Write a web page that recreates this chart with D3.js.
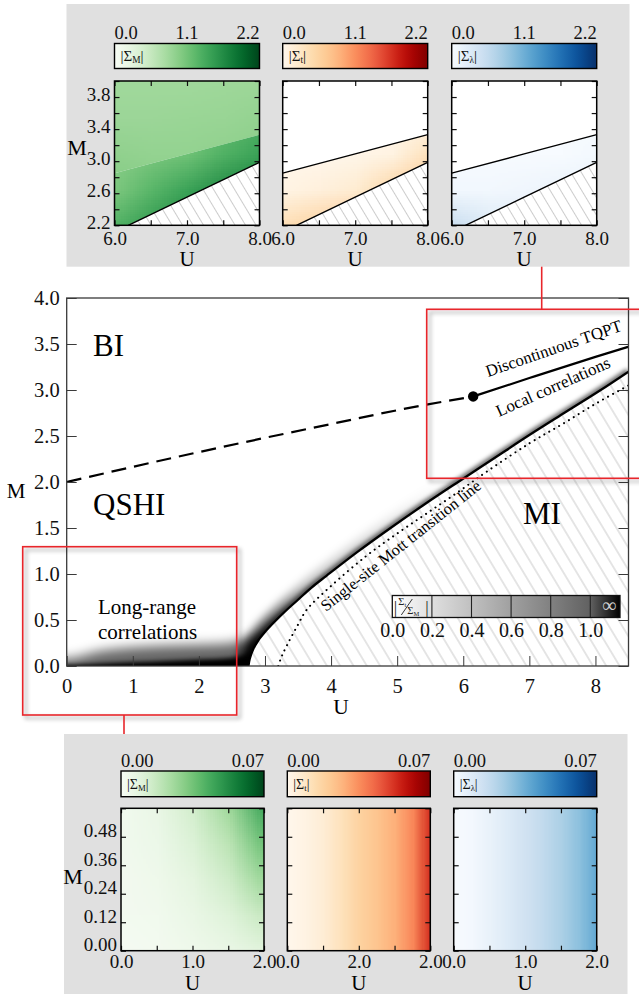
<!DOCTYPE html>
<html>
<head>
<meta charset="utf-8">
<script src="https://cdn.jsdelivr.net/npm/d3@7"></script>
<style>
  body { margin: 0; background: #fff; }
  svg { display: block; }
  text { font-family: "Liberation Serif", "Times New Roman", serif; }
</style>
</head>
<body>
<svg id="canvas"></svg>
<script>
const width = 639;
const height = 994;

// ---- main phase diagram ----
const uTicks = [0, 1, 2, 3, 4, 5, 6, 7, 8];
const mTicks = [0.0, 0.5, 1.0, 1.5, 2.0, 2.5, 3.0, 3.5, 4.0];
const tqptDashU = [0, 1, 2, 3, 4, 5, 6.15];
const tqptDashM = [2.0, 2.165, 2.325, 2.48, 2.63, 2.78, 2.93];
const tqptSolidU = [6.15, 7.0, 8.0, 8.5];
const tqptSolidM = [2.93, 3.13, 3.36, 3.47];
const mottU = [2.75, 2.77, 2.82, 2.9, 3.0, 3.13, 3.3, 3.5, 3.7, 3.93, 4.4, 4.9, 5.4, 5.9, 6.45, 7.0, 7.55, 8.08, 8.5];
const mottM = [0.0, 0.08, 0.18, 0.28, 0.37, 0.47, 0.59, 0.72, 0.85, 0.98, 1.24, 1.5, 1.75, 1.99, 2.25, 2.51, 2.76, 3.0, 3.2];
const singleU = [3.2, 3.25, 3.35, 3.5, 3.63, 4.0, 4.54, 5.0, 5.45, 5.9, 6.35, 7.0, 7.5, 8.0, 8.5];
const singleM = [0.0, 0.1, 0.25, 0.45, 0.61, 0.87, 1.2, 1.44, 1.66, 1.88, 2.11, 2.42, 2.63, 2.85, 3.05];
const critical = [6.15, 2.93];
const bandU = [0, 0.5, 1.0, 1.5, 2.0, 2.5, 2.76];
const bandCore = [0.01, 0.025, 0.04, 0.055, 0.07, 0.09, 0.12];
const bandHalo = [0.08, 0.16, 0.2, 0.22, 0.23, 0.25, 0.3];
const ratioTicks = [0.0, 0.2, 0.4, 0.6, 0.8, 1.0];
const ratioMax = 1.15;

// ---- upper inset: U 6-8, M 2.2-4.0 ----
const topUTicks = [6.0, 6.5, 7.0, 7.5, 8.0];
const topULabels = ["6.0", "", "7.0", "", "8.0"];
const topMTicks = [2.2, 2.4, 2.6, 2.8, 3.0, 3.2, 3.4, 3.6, 3.8, 4.0];
const topMLabels = ["2.2", "", "2.6", "", "3.0", "", "3.4", "", "3.8", ""];
const topCbTicks = [0.0, 1.1, 2.2];
const insetTqptU = [6.0, 7.0, 8.0];
const insetTqptM = [2.85, 3.09, 3.33];
const insetMottU = [6.19, 7.0, 8.0];
const insetMottM = [2.2, 2.55, 2.985];
const topGridU = [6.0, 6.5, 7.0, 7.5, 8.0];
const topGridM = [4.0, 3.55, 3.1, 2.65, 2.2];
const sigmaMAbove = [
  [0.82, 0.82, 0.82, 0.83, 0.84],
  [0.85, 0.85, 0.86, 0.87, 0.9],
  [0.92, 0.9, 0.9, 0.92, 0.95],
  [1.0, 0.98, 0.97, 0.97, 0.98],
  [1.1, 1.05, 1.0, 1.0, 1.0]
];
const sigmaMBelow = [
  [0.95, 1.0, 1.05, 1.1, 1.2],
  [0.95, 1.0, 1.05, 1.15, 1.3],
  [0.97, 1.05, 1.12, 1.3, 1.45],
  [1.05, 1.25, 1.45, 1.65, 1.78],
  [1.3, 1.5, 1.72, 1.85, 1.9]
];
const sigmaTBelow = [
  [0, 0, 0, 0, 0],
  [0, 0, 0, 0, 0.02],
  [0, 0, 0.02, 0.08, 0.35],
  [0.06, 0.12, 0.2, 0.5, 0.7],
  [0.4, 0.55, 0.7, 0.75, 0.75]
];
const sigmaLBelow = [
  [0, 0, 0, 0, 0],
  [0, 0, 0, 0, 0],
  [0, 0, 0, 0, 0.04],
  [0.05, 0.05, 0.08, 0.12, 0.15],
  [0.5, 0.3, 0.25, 0.2, 0.2]
];

// ---- lower inset: U 0-2, M 0-0.6 ----
const lowUTicks = [0.0, 0.5, 1.0, 1.5, 2.0];
const lowULabels = [
  ["0.0", "", "1.0", "", "2.0"],
  ["0.0", "", "2.0", "", "2.0"],
  ["0.0", "", "1.0", "", "2.0"]
];
const lowMTicks = [0.0, 0.12, 0.24, 0.36, 0.48, 0.6];
const lowMLabels = ["0.00", "0.12", "0.24", "0.36", "0.48", ""];
const lowCbTicks = [0.0, 0.07];
const lowGridU = [0.0, 0.5, 1.0, 1.5, 2.0];
const lowGridM = [0.6, 0.45, 0.3, 0.15, 0.0];
const lowSigmaM = [
  [0.003, 0.006, 0.014, 0.026, 0.045],
  [0.003, 0.005, 0.011, 0.02, 0.036],
  [0.002, 0.004, 0.008, 0.015, 0.027],
  [0.002, 0.003, 0.006, 0.01, 0.017],
  [0.001, 0.002, 0.004, 0.006, 0.009]
];
const lowStripU = [0, 0.25, 0.5, 0.75, 1.0, 1.25, 1.5, 1.75, 2.0];
const lowSigmaT = [0.0, 0.0021, 0.0056, 0.0112, 0.0175, 0.0224, 0.028, 0.0364, 0.0532];
const lowSigmaL = [0.0, 0.0015, 0.005, 0.009, 0.0135, 0.018, 0.023, 0.029, 0.037];

const zip = (a, b) => a.map((v, i) => [v, b[i]]);

const svg = d3.select("#canvas")
              .attr("width", width)
              .attr("height", height);
const defs = svg.append("defs");
svg.append("rect").attr("width", width).attr("height", height).attr("fill", "#fff");

function hatch(id, step) {
  const p = defs.append("pattern")
                .attr("id", id)
                .attr("patternUnits", "userSpaceOnUse")
                .attr("width", step).attr("height", step)
                .attr("patternTransform", "rotate(-31)");
  p.append("line")
   .attr("x1", step / 2).attr("x2", step / 2)
   .attr("y1", -1).attr("y2", step + 1)
   .attr("stroke", "#c6c6c6").attr("stroke-width", 0.9);
}
hatch("hatchMain", 11.4);
hatch("hatchInset", 9);

function blur(id, sd) {
  defs.append("filter").attr("id", id)
      .attr("x", "-50%").attr("y", "-50%").attr("width", "200%").attr("height", "200%")
      .append("feGaussianBlur").attr("stdDeviation", sd);
}
blur("blurWide", 5);
blur("blurNarrow", 2.2);
blur("blurHalo", 6);
blur("blurCore", 2);

const sh = defs.append("filter").attr("id", "boxShadow")
               .attr("x", "-10%").attr("y", "-10%").attr("width", "120%").attr("height", "120%");
sh.append("feGaussianBlur").attr("in", "SourceAlpha").attr("stdDeviation", 2.2).attr("result", "b");
sh.append("feOffset").attr("in", "b").attr("dx", 3).attr("dy", 3).attr("result", "o");
sh.append("feComponentTransfer").attr("in", "o").attr("result", "s")
  .append("feFuncA").attr("type", "linear").attr("slope", 0.4);
const mg = sh.append("feMerge");
mg.append("feMergeNode").attr("in", "s");
mg.append("feMergeNode").attr("in", "SourceGraphic");

function clipPoly(id, pts) {
  defs.append("clipPath").attr("id", id).append("path").attr("d", "M" + pts.join("L") + "Z");
}
function clipRect(id, x0, y0, w, h) {
  defs.append("clipPath").attr("id", id).append("rect")
      .attr("x", x0).attr("y", y0).attr("width", w).attr("height", h);
}

// ================= main plot =================
const x = d3.scaleLinear().domain([0, 8.5]).range([66.7, 628.5]);
const y = d3.scaleLinear().domain([0, 4]).range([666, 298]);
const px = d => [x(d[0]), y(d[1])];

const mottPts = zip(mottU, mottM);
clipRect("plotClip", x(0), y(4), x(8.5) - x(0), y(0) - y(4));
clipPoly("outsideClip", [[-1, -1], [mottU[0], -1], ...mottPts, [9.5, mottM[mottM.length - 1]], [9.5, 5], [-1, 5]].map(px));

const main = svg.append("g");
const plotArea = main.append("g").attr("clip-path", "url(#plotClip)");

// hatched Mott insulator
plotArea.append("path")
        .attr("d", "M" + [...mottPts, [8.5, 0]].map(px).join("L") + "Z")
        .attr("fill", "url(#hatchMain)");

// |Σt/ΣM| shading
const shade = plotArea.append("g").attr("clip-path", "url(#outsideClip)");
const bandPts = (vals) => [[-0.5, vals[0]], ...zip(bandU, vals), [3.1, vals[vals.length - 1]]];
const bandArea = d3.area().x(d => x(d[0])).y0(y(-0.4)).y1(d => y(d[1])).curve(d3.curveMonotoneX);
shade.append("path").datum(bandPts(bandHalo)).attr("d", bandArea)
     .attr("fill", "#000").attr("fill-opacity", 0.6).attr("filter", "url(#blurHalo)");
shade.append("path").datum(bandPts(bandCore)).attr("d", bandArea)
     .attr("fill", "#000").attr("filter", "url(#blurCore)");

const wideGrad = defs.append("linearGradient").attr("id", "wideGrad")
                     .attr("gradientUnits", "userSpaceOnUse")
                     .attr("x1", 0).attr("x2", 0).attr("y1", y(0)).attr("y2", y(2));
[[0, 1], [0.2, 0.75], [0.45, 0.25], [1, 0]].forEach(s =>
  wideGrad.append("stop").attr("offset", s[0]).attr("stop-color", "#000").attr("stop-opacity", s[1]));

const mottLine = d3.line().x(d => x(d[0])).y(d => y(d[1])).curve(d3.curveCatmullRom.alpha(0.5));
shade.append("path").datum(mottPts).attr("d", mottLine)
     .attr("fill", "none").attr("stroke", "url(#wideGrad)").attr("stroke-width", 20)
     .attr("filter", "url(#blurWide)");
shade.append("path").datum(mottPts).attr("d", mottLine)
     .attr("fill", "none").attr("stroke", "#000").attr("stroke-opacity", 0.6).attr("stroke-width", 7)
     .attr("filter", "url(#blurNarrow)");

// single-site Mott transition line (dotted)
plotArea.append("path").datum(zip(singleU, singleM)).attr("d", mottLine)
        .attr("fill", "none").attr("stroke", "#000").attr("stroke-width", 2)
        .attr("stroke-linecap", "round").attr("stroke-dasharray", "0.1,5.6");

// Mott line
plotArea.append("path").datum(mottPts).attr("d", mottLine)
        .attr("fill", "none").attr("stroke", "#000").attr("stroke-width", 2.3);

// TQPT lines
const straight = d3.line().x(d => x(d[0])).y(d => y(d[1])).curve(d3.curveMonotoneX);
plotArea.append("path").datum(zip(tqptDashU, tqptDashM)).attr("d", straight)
        .attr("fill", "none").attr("stroke", "#000").attr("stroke-width", 2.2)
        .attr("stroke-dasharray", "15,8");
plotArea.append("path").datum(zip(tqptSolidU, tqptSolidM)).attr("d", straight)
        .attr("fill", "none").attr("stroke", "#000").attr("stroke-width", 2.2);
plotArea.append("circle").attr("cx", x(critical[0])).attr("cy", y(critical[1])).attr("r", 5.2).attr("fill", "#000");

// axes
const axisColor = "#3a3a3a";
const xAxis = main.append("g").attr("transform", `translate(0,${y(0)})`)
  .call(d3.axisBottom(x).tickValues(uTicks).tickSize(-10).tickSizeOuter(0).tickPadding(12).tickFormat(d3.format("d")));
const yAxis = main.append("g").attr("transform", `translate(${x(0)},0)`)
  .call(d3.axisLeft(y).tickValues(mTicks).tickSize(-10).tickSizeOuter(0).tickPadding(7).tickFormat(d3.format(".1f")));
const yAxisR = main.append("g").attr("transform", `translate(${x(8.5)},0)`)
  .call(d3.axisRight(y).tickValues(mTicks).tickSize(-10).tickSizeOuter(0).tickFormat(""));
[xAxis, yAxis, yAxisR].forEach(a => {
  a.attr("font-size", 20.5).attr("font-family", null).attr("color", axisColor);
  a.select(".domain").remove();
  a.selectAll("text").attr("fill", "#111");
});
main.append("rect").attr("x", x(0)).attr("y", y(4)).attr("width", x(8.5) - x(0)).attr("height", y(0) - y(4))
    .attr("fill", "none").attr("stroke", axisColor).attr("stroke-width", 1.3);

main.append("text").attr("x", 341).attr("y", 714).attr("text-anchor", "middle").attr("font-size", 21.5).text("U");
main.append("text").attr("x", 16).attr("y", 498).attr("text-anchor", "middle").attr("font-size", 21).text("M");

// region labels
const big = [["BI", 93, 356], ["QSHI", 93, 515], ["MI", 523, 524]];
big.forEach(b => main.append("text").attr("x", b[1]).attr("y", b[2]).attr("font-size", 31).text(b[0]));
main.append("text").attr("x", 98).attr("y", 614).attr("font-size", 21).text("Long-range");
main.append("text").attr("x", 98).attr("y", 639).attr("font-size", 21).text("correlations");
main.append("text").attr("transform", "translate(488,377) rotate(-19)").attr("font-size", 16.8).text("Discontinuous TQPT");
main.append("text").attr("transform", "translate(499,417) rotate(-24)").attr("font-size", 17).text("Local correlations");
main.append("text").attr("transform", "translate(326,612) rotate(-38.5)").attr("font-size", 16.3).text("Single-site Mott transition line");

// ratio legend
const xr = d3.scaleLinear().domain([0, ratioMax]).range([392.3, 620]);
const greyT = d3.scaleLinear().domain([0, 1.0, ratioMax]).range([0, 0.62, 1]);
const greyOf = v => d3.interpolateRgb("#ffffff", "#000000")(greyT(v));
const lg = defs.append("linearGradient").attr("id", "ratioGrad")
               .attr("gradientUnits", "userSpaceOnUse").attr("x1", xr(0)).attr("x2", xr(ratioMax)).attr("y1", 0).attr("y2", 0);
[...ratioTicks, ratioMax].forEach(v => lg.append("stop").attr("offset", v / ratioMax).attr("stop-color", greyOf(v)));
const legend = main.append("g");
const lgTop = 595.5, lgBot = 617.5;
legend.append("rect").attr("x", xr(0)).attr("y", lgTop).attr("width", xr(ratioMax) - xr(0)).attr("height", lgBot - lgTop)
      .attr("fill", "url(#ratioGrad)");
legend.selectAll("line.div").data(ratioTicks.slice(1)).enter().append("line")
      .attr("x1", d => xr(d)).attr("x2", d => xr(d)).attr("y1", lgTop).attr("y2", lgBot)
      .attr("stroke", "#222").attr("stroke-width", 1.1);
legend.append("rect").attr("x", xr(0)).attr("y", lgTop).attr("width", xr(ratioMax) - xr(0)).attr("height", lgBot - lgTop)
      .attr("fill", "none").attr("stroke", "#111").attr("stroke-width", 1.3);
const lgAxis = legend.append("g").attr("transform", `translate(0,${lgBot})`)
  .call(d3.axisBottom(xr).tickValues(ratioTicks).tickSize(0).tickPadding(5).tickFormat(d3.format(".1f")));
lgAxis.attr("font-size", 20).attr("font-family", null);
lgAxis.select(".domain").remove();
lgAxis.selectAll("text").attr("fill", "#111");
legend.append("text").attr("x", (xr(1.0) + xr(ratioMax)) / 2 + 4).attr("y", 612).attr("text-anchor", "middle")
      .attr("font-size", 20).attr("fill", "#cfcfcf").text("∞");
const lx = xr(0);
legend.append("text").attr("x", lx + 1.5).attr("y", 613).attr("font-size", 17).attr("fill", "#222").text("|");
legend.append("text").attr("x", lx + 6).attr("y", 605).attr("font-size", 10.5).attr("fill", "#222")
      .text("Σ").append("tspan").attr("font-size", 6.5).attr("dy", 1.5).text("t");
legend.append("line").attr("x1", lx + 9).attr("y1", 615).attr("x2", lx + 20).attr("y2", 599)
      .attr("stroke", "#222").attr("stroke-width", 0.9);
legend.append("text").attr("x", lx + 15).attr("y", 614).attr("font-size", 10.5).attr("fill", "#222")
      .text("Σ").append("tspan").attr("font-size", 6.5).attr("dy", 1.5).text("M");
legend.append("text").attr("x", lx + 33).attr("y", 613).attr("font-size", 17).attr("fill", "#222").text("|");

// ================= insets =================
let cbCount = 0;
function heat(g, grid, us, ms, color, xs, ys, clip) {
  const rows = grid.length, cols = grid[0].length;
  const cv = document.createElement("canvas");
  cv.width = cols; cv.height = rows;
  const ctx = cv.getContext("2d");
  grid.forEach((row, j) => row.forEach((v, i) => {
    ctx.fillStyle = color(v);
    ctx.fillRect(i, j, 1, 1);
  }));
  const hx = (xs(us[1]) - xs(us[0])) / 2;
  let y0, y1;
  if (ms) {
    const hy = (ys(ms[1]) - ys(ms[0])) / 2;
    y0 = ys(ms[0]) - hy; y1 = ys(ms[rows - 1]) + hy;
  } else {
    [y1, y0] = ys.range();
  }
  g.append("image")
   .attr("href", cv.toDataURL())
   .attr("x", xs(us[0]) - hx).attr("y", y0)
   .attr("width", xs(us[cols - 1]) - xs(us[0]) + 2 * hx).attr("height", y1 - y0)
   .attr("preserveAspectRatio", "none")
   .attr("clip-path", `url(#${clip})`);
}

function frame(g, xs, ys, xt, xl, yt, yl, xp, yShift) {
  const [l, r] = xs.range(), [b, t] = ys.range();
  const axes = [
    g.append("g").attr("transform", `translate(0,${b})`)
     .call(d3.axisBottom(xs).tickValues(xt).tickSize(-5).tickSizeOuter(0).tickPadding(xp).tickFormat((d, i) => xl[i])),
    g.append("g").attr("transform", `translate(0,${t})`)
     .call(d3.axisTop(xs).tickValues(xt).tickSize(-5).tickSizeOuter(0).tickFormat("")),
    g.append("g").attr("transform", `translate(${l},0)`)
     .call(d3.axisLeft(ys).tickValues(yt).tickSize(-5).tickSizeOuter(0).tickPadding(4).tickFormat((d, i) => yl ? yl[i] : "")),
    g.append("g").attr("transform", `translate(${r},0)`)
     .call(d3.axisRight(ys).tickValues(yt).tickSize(-5).tickSizeOuter(0).tickFormat(""))
  ];
  axes.forEach(a => {
    a.attr("font-size", 19).attr("font-family", null).attr("color", "#111");
    a.select(".domain").remove();
    a.selectAll(".tick line").attr("stroke-width", 1.2);
  });
  axes[2].selectAll(".tick text").attr("y", -yShift);
  g.append("rect").attr("x", l).attr("y", t).attr("width", r - l).attr("height", b - t)
   .attr("fill", "none").attr("stroke", "#000").attr("stroke-width", 1.5);
}

function colorbar(g, l, r, t, b, color, dom, ticks, fmt, sub, fs) {
  const id = "cb" + (cbCount++);
  const grad = defs.append("linearGradient").attr("id", id);
  d3.range(0, 1.0001, 0.05).forEach(f =>
    grad.append("stop").attr("offset", f).attr("stop-color", color(dom[0] + f * (dom[1] - dom[0]))));
  g.append("rect").attr("x", l).attr("y", t).attr("width", r - l).attr("height", b - t)
   .attr("fill", `url(#${id})`).attr("stroke", "#000").attr("stroke-width", 1.4);
  const cs = d3.scaleLinear().domain(dom).range([l, r]);
  g.selectAll(null).data(ticks).enter().append("text")
   .attr("x", d => cs(d))
   .attr("y", t - 4.5)
   .attr("font-size", 18.5)
   .attr("fill", "#111")
   .attr("text-anchor", (d, i) => i === 0 ? "start" : (i === ticks.length - 1 ? "end" : "middle"))
   .text(fmt);
  const tx = g.append("text").attr("x", l + 6).attr("y", (t + b) / 2 + 5).attr("font-size", fs).attr("fill", "#111");
  tx.append("tspan").text("|Σ");
  tx.append("tspan").attr("font-size", fs * 0.62).attr("dy", 2).text(sub);
  tx.append("tspan").attr("dy", -2).text("|");
}

// ---- upper inset ----
const topG = svg.append("g");
topG.append("rect").attr("x", 66.5).attr("y", 4).attr("width", 563).attr("height", 262.7).attr("fill", "#e0e0e0");
const topLefts = [114.5, 282.7, 451.7];
const topW = 145, topY0 = 81, topY1 = 225.3;
const topInfo = [
  { interp: d3.interpolateGreens, sub: "M", above: sigmaMAbove, below: sigmaMBelow, tqpt: false },
  { interp: d3.interpolateOrRd, sub: "t", above: null, below: sigmaTBelow, tqpt: true },
  { interp: d3.interpolateBlues, sub: "λ", above: null, below: sigmaLBelow, tqpt: true }
];
const upperLine = zip(insetTqptU, insetTqptM);
const lowerLine = zip(insetMottU, insetMottM);
topInfo.forEach((p, k) => {
  const l = topLefts[k];
  const xs = d3.scaleLinear().domain([6.0, 8.0]).range([l, l + topW]);
  const ys = d3.scaleLinear().domain([2.2, 4.0]).range([topY1, topY0]);
  const pp = d => [xs(d[0]), ys(d[1])];
  const color = d3.scaleSequential(p.interp).domain([0, 2.2]);
  const g = topG.append("g");
  g.append("rect").attr("x", l).attr("y", topY0).attr("width", topW).attr("height", topY1 - topY0).attr("fill", "#fff");
  const cA = "tA" + k, cB = "tB" + k;
  clipPoly(cA, [[6.0, 4.0], [8.0, 4.0], ...upperLine.slice().reverse()].map(pp));
  clipPoly(cB, [...upperLine, ...lowerLine.slice().reverse(), [6.0, 2.2]].map(pp));
  if (p.above) heat(g, p.above, topGridU, topGridM, color, xs, ys, cA);
  heat(g, p.below, topGridU, topGridM, color, xs, ys, cB);
  g.append("path").attr("d", "M" + [...lowerLine, [8.0, 2.2]].map(pp).join("L") + "Z").attr("fill", "url(#hatchInset)");
  const ln = d3.line().x(d => xs(d[0])).y(d => ys(d[1]));
  g.append("path").datum(lowerLine).attr("d", ln).attr("fill", "none").attr("stroke", "#000").attr("stroke-width", 1.4);
  if (p.tqpt) g.append("path").datum(upperLine).attr("d", ln).attr("fill", "none").attr("stroke", "#000").attr("stroke-width", 1.3);
  frame(g, xs, ys, topUTicks, topULabels, topMTicks, k === 0 ? topMLabels : null, 6, 3);
  g.append("text").attr("x", l + topW / 2).attr("y", 266).attr("text-anchor", "middle").attr("font-size", 21).text("U");
  colorbar(g, l, l + topW, 43.5, 68.5, color, [0, 2.2], topCbTicks, d3.format(".1f"), p.sub, 15);
});
topG.append("text").attr("x", 77).attr("y", 155).attr("text-anchor", "middle").attr("font-size", 22).text("M");

// ---- lower inset ----
const botG = svg.append("g");
botG.append("rect").attr("x", 64).attr("y", 734).attr("width", 563.5).attr("height", 260).attr("fill", "#e0e0e0");
const lowLefts = [121, 287.3, 453.7];
const lowW = 143, lowY0 = 808.3, lowY1 = 950.7;
const lowInfo = [
  { interp: d3.interpolateGreens, sub: "M" },
  { interp: d3.interpolateOrRd, sub: "t" },
  { interp: d3.interpolateBlues, sub: "λ" }
];
lowInfo.forEach((p, k) => {
  const l = lowLefts[k];
  const xs = d3.scaleLinear().domain([0.0, 2.0]).range([l, l + lowW]);
  const ys = d3.scaleLinear().domain([0.0, 0.6]).range([lowY1, lowY0]);
  const color = d3.scaleSequential(p.interp).domain([0, 0.07]);
  const g = botG.append("g");
  const cid = "lc" + k;
  clipRect(cid, l, lowY0, lowW, lowY1 - lowY0);
  if (k === 0) heat(g, lowSigmaM, lowGridU, lowGridM, color, xs, ys, cid);
  if (k === 1) heat(g, [lowSigmaT], lowStripU, null, color, xs, ys, cid);
  if (k === 2) heat(g, [lowSigmaL], lowStripU, null, color, xs, ys, cid);
  frame(g, xs, ys, lowUTicks, lowULabels[k], lowMTicks, k === 0 ? lowMLabels : null, 4, 6);
  g.append("text").attr("x", l + lowW / 2).attr("y", 990).attr("text-anchor", "middle").attr("font-size", 21).text("U");
  colorbar(g, l, l + lowW, 771, 796.7, color, [0, 0.07], lowCbTicks, d3.format(".2f"), p.sub, 14);
});
botG.append("text").attr("x", 73).attr("y", 884).attr("text-anchor", "middle").attr("font-size", 22).text("M");

// ---- red zoom boxes ----
const red = svg.append("g").attr("filter", "url(#boxShadow)");
red.append("rect").attr("x", 22.7).attr("y", 546.7).attr("width", 214).attr("height", 168.3)
   .attr("fill", "none").attr("stroke", "#e8262b").attr("stroke-width", 1.6);
red.append("rect").attr("x", 426.7).attr("y", 309.3).attr("width", 240).attr("height", 169)
   .attr("fill", "none").attr("stroke", "#e8262b").attr("stroke-width", 1.6);
svg.append("line").attr("x1", 124).attr("x2", 124).attr("y1", 715).attr("y2", 734)
   .attr("stroke", "#e8262b").attr("stroke-width", 1.6);
svg.append("line").attr("x1", 541.7).attr("x2", 541.7).attr("y1", 266.7).attr("y2", 309.3)
   .attr("stroke", "#e8262b").attr("stroke-width", 1.6);
</script>
</body>
</html>
